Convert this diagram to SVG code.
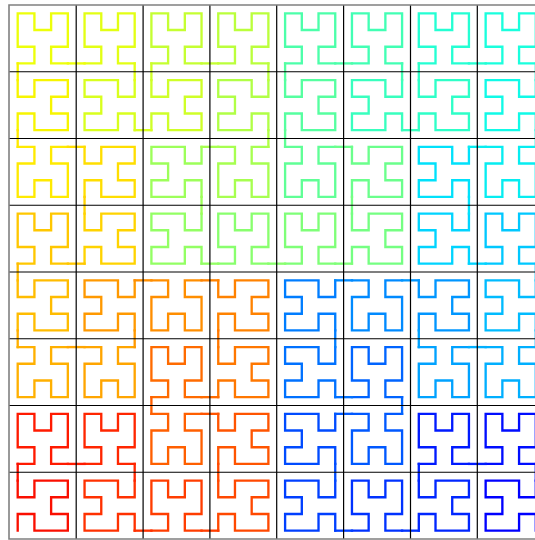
<svg xmlns="http://www.w3.org/2000/svg" width="535" height="540" viewBox="0 0 535 540">
<style>
.curve{fill:none;stroke-width:0.14;stroke-linecap:square;stroke-linejoin:miter}
.grid line{stroke:#000;stroke-width:1.2}
.frame{fill:none;stroke:#808080;stroke-width:1.6}
</style>
<defs>
<path id="hI" d="M0 0H1V1H0V3H1V2H2V3H3V1H2V0H3"/>
<path id="hT" d="M0 0V1H1V0H3V1H2V2H3V3H1V2H0V3"/>
<path id="hA" d="M3 3V2H2V3H0V2H1V1H0V0H2V1H3V0"/>
<path id="hR" d="M3 3H2V2H3V0H2V1H1V0H0V2H1V3H0"/>
</defs>
<rect width="535" height="540" fill="#fff"/>
<g class="curve" transform="matrix(16.7125 0 0 -16.6875 17.7 530.656)">
<g id="blocks">
<use id="b0" href="#hT" x="0" y="0" stroke="#fa0f00"/>
<use id="b1" href="#hI" x="0" y="4" stroke="#ff1a00"/>
<use id="b2" href="#hI" x="4" y="4" stroke="#ff2600"/>
<use id="b3" href="#hA" x="4" y="0" stroke="#ff3100"/>
<use id="b4" href="#hI" x="8" y="0" stroke="#ff3d00"/>
<use id="b5" href="#hT" x="12" y="0" stroke="#ff4800"/>
<use id="b6" href="#hT" x="12" y="4" stroke="#ff5400"/>
<use id="b7" href="#hR" x="8" y="4" stroke="#ff5f00"/>
<use id="b8" href="#hI" x="8" y="8" stroke="#ff6b00"/>
<use id="b9" href="#hT" x="12" y="8" stroke="#ff7700"/>
<use id="b10" href="#hT" x="12" y="12" stroke="#ff8200"/>
<use id="b11" href="#hR" x="8" y="12" stroke="#ff8e00"/>
<use id="b12" href="#hA" x="4" y="12" stroke="#ff9900"/>
<use id="b13" href="#hR" x="4" y="8" stroke="#ffa500"/>
<use id="b14" href="#hR" x="0" y="8" stroke="#ffb000"/>
<use id="b15" href="#hT" x="0" y="12" stroke="#ffbc00"/>
<use id="b16" href="#hI" x="0" y="16" stroke="#ffc700"/>
<use id="b17" href="#hT" x="4" y="16" stroke="#ffd300"/>
<use id="b18" href="#hT" x="4" y="20" stroke="#ffde00"/>
<use id="b19" href="#hR" x="0" y="20" stroke="#ffea00"/>
<use id="b20" href="#hT" x="0" y="24" stroke="#f7f500"/>
<use id="b21" href="#hI" x="0" y="28" stroke="#edff0a"/>
<use id="b22" href="#hI" x="4" y="28" stroke="#e3ff14"/>
<use id="b23" href="#hA" x="4" y="24" stroke="#d9ff1e"/>
<use id="b24" href="#hT" x="8" y="24" stroke="#cfff28"/>
<use id="b25" href="#hI" x="8" y="28" stroke="#c5ff32"/>
<use id="b26" href="#hI" x="12" y="28" stroke="#bbff3c"/>
<use id="b27" href="#hA" x="12" y="24" stroke="#b1ff46"/>
<use id="b28" href="#hR" x="12" y="20" stroke="#a7ff50"/>
<use id="b29" href="#hA" x="8" y="20" stroke="#9dff5a"/>
<use id="b30" href="#hA" x="8" y="16" stroke="#93ff64"/>
<use id="b31" href="#hI" x="12" y="16" stroke="#89ff6e"/>
<use id="b32" href="#hI" x="16" y="16" stroke="#7fff78"/>
<use id="b33" href="#hT" x="20" y="16" stroke="#75ff82"/>
<use id="b34" href="#hT" x="20" y="20" stroke="#6bff8c"/>
<use id="b35" href="#hR" x="16" y="20" stroke="#60ff96"/>
<use id="b36" href="#hT" x="16" y="24" stroke="#56ffa0"/>
<use id="b37" href="#hI" x="16" y="28" stroke="#4cffaa"/>
<use id="b38" href="#hI" x="20" y="28" stroke="#42ffb4"/>
<use id="b39" href="#hA" x="20" y="24" stroke="#38ffbe"/>
<use id="b40" href="#hT" x="24" y="24" stroke="#2effc8"/>
<use id="b41" href="#hI" x="24" y="28" stroke="#24ffd3"/>
<use id="b42" href="#hI" x="28" y="28" stroke="#1affdd"/>
<use id="b43" href="#hA" x="28" y="24" stroke="#10fae7"/>
<use id="b44" href="#hR" x="28" y="20" stroke="#06edf1"/>
<use id="b45" href="#hA" x="24" y="20" stroke="#00e1fb"/>
<use id="b46" href="#hA" x="24" y="16" stroke="#00d4ff"/>
<use id="b47" href="#hI" x="28" y="16" stroke="#00c8ff"/>
<use id="b48" href="#hA" x="28" y="12" stroke="#00bbff"/>
<use id="b49" href="#hR" x="28" y="8" stroke="#00afff"/>
<use id="b50" href="#hR" x="24" y="8" stroke="#00a2ff"/>
<use id="b51" href="#hT" x="24" y="12" stroke="#0096ff"/>
<use id="b52" href="#hR" x="20" y="12" stroke="#008aff"/>
<use id="b53" href="#hA" x="16" y="12" stroke="#007dff"/>
<use id="b54" href="#hA" x="16" y="8" stroke="#0071ff"/>
<use id="b55" href="#hI" x="20" y="8" stroke="#0064ff"/>
<use id="b56" href="#hR" x="20" y="4" stroke="#0058ff"/>
<use id="b57" href="#hA" x="16" y="4" stroke="#004bff"/>
<use id="b58" href="#hA" x="16" y="0" stroke="#003fff"/>
<use id="b59" href="#hI" x="20" y="0" stroke="#0032ff"/>
<use id="b60" href="#hT" x="24" y="0" stroke="#0026ff"/>
<use id="b61" href="#hI" x="24" y="4" stroke="#001aff"/>
<use id="b62" href="#hI" x="28" y="4" stroke="#000dff"/>
<use id="b63" href="#hA" x="28" y="0" stroke="#0000ff"/>
</g>
<g id="connectors">
<path d="M0 3V4" stroke="#fa0f00"/>
<path d="M3 4H4" stroke="#ff1a00"/>
<path d="M7 4V3" stroke="#ff2600"/>
<path d="M7 0H8" stroke="#ff3100"/>
<path d="M11 0H12" stroke="#ff3d00"/>
<path d="M12 3V4" stroke="#ff4800"/>
<path d="M12 7H11" stroke="#ff5400"/>
<path d="M8 7V8" stroke="#ff5f00"/>
<path d="M11 8H12" stroke="#ff6b00"/>
<path d="M12 11V12" stroke="#ff7700"/>
<path d="M12 15H11" stroke="#ff8200"/>
<path d="M8 15H7" stroke="#ff8e00"/>
<path d="M7 12V11" stroke="#ff9900"/>
<path d="M4 11H3" stroke="#ffa500"/>
<path d="M0 11V12" stroke="#ffb000"/>
<path d="M0 15V16" stroke="#ffbc00"/>
<path d="M3 16H4" stroke="#ffc700"/>
<path d="M4 19V20" stroke="#ffd300"/>
<path d="M4 23H3" stroke="#ffde00"/>
<path d="M0 23V24" stroke="#ffea00"/>
<path d="M0 27V28" stroke="#f7f500"/>
<path d="M3 28H4" stroke="#edff0a"/>
<path d="M7 28V27" stroke="#e3ff14"/>
<path d="M7 24H8" stroke="#d9ff1e"/>
<path d="M8 27V28" stroke="#cfff28"/>
<path d="M11 28H12" stroke="#c5ff32"/>
<path d="M15 28V27" stroke="#bbff3c"/>
<path d="M15 24V23" stroke="#b1ff46"/>
<path d="M12 23H11" stroke="#a7ff50"/>
<path d="M11 20V19" stroke="#9dff5a"/>
<path d="M11 16H12" stroke="#93ff64"/>
<path d="M15 16H16" stroke="#89ff6e"/>
<path d="M19 16H20" stroke="#7fff78"/>
<path d="M20 19V20" stroke="#75ff82"/>
<path d="M20 23H19" stroke="#6bff8c"/>
<path d="M16 23V24" stroke="#60ff96"/>
<path d="M16 27V28" stroke="#56ffa0"/>
<path d="M19 28H20" stroke="#4cffaa"/>
<path d="M23 28V27" stroke="#42ffb4"/>
<path d="M23 24H24" stroke="#38ffbe"/>
<path d="M24 27V28" stroke="#2effc8"/>
<path d="M27 28H28" stroke="#24ffd3"/>
<path d="M31 28V27" stroke="#1affdd"/>
<path d="M31 24V23" stroke="#10fae7"/>
<path d="M28 23H27" stroke="#06edf1"/>
<path d="M27 20V19" stroke="#00e1fb"/>
<path d="M27 16H28" stroke="#00d4ff"/>
<path d="M31 16V15" stroke="#00c8ff"/>
<path d="M31 12V11" stroke="#00bbff"/>
<path d="M28 11H27" stroke="#00afff"/>
<path d="M24 11V12" stroke="#00a2ff"/>
<path d="M24 15H23" stroke="#0096ff"/>
<path d="M20 15H19" stroke="#008aff"/>
<path d="M19 12V11" stroke="#007dff"/>
<path d="M19 8H20" stroke="#0071ff"/>
<path d="M23 8V7" stroke="#0064ff"/>
<path d="M20 7H19" stroke="#0058ff"/>
<path d="M19 4V3" stroke="#004bff"/>
<path d="M19 0H20" stroke="#003fff"/>
<path d="M23 0H24" stroke="#0032ff"/>
<path d="M24 3V4" stroke="#0026ff"/>
<path d="M27 4H28" stroke="#001aff"/>
<path d="M31 4V3" stroke="#000dff"/>
</g>
</g>
<g class="grid">
<line x1="76.2" y1="5" x2="76.2" y2="539"/>
<line x1="143.1" y1="5" x2="143.1" y2="539"/>
<line x1="209.9" y1="5" x2="209.9" y2="539"/>
<line x1="276.7" y1="5" x2="276.7" y2="539"/>
<line x1="343.6" y1="5" x2="343.6" y2="539"/>
<line x1="410.5" y1="5" x2="410.5" y2="539"/>
<line x1="477.3" y1="5" x2="477.3" y2="539"/>
<line x1="9" y1="71.75" x2="535" y2="71.75"/>
<line x1="9" y1="138.5" x2="535" y2="138.5"/>
<line x1="9" y1="205.25" x2="535" y2="205.25"/>
<line x1="9" y1="272" x2="535" y2="272"/>
<line x1="9" y1="338.75" x2="535" y2="338.75"/>
<line x1="9" y1="405.5" x2="535" y2="405.5"/>
<line x1="9" y1="472.25" x2="535" y2="472.25"/>
</g>
<path class="frame" d="M536 5H9V539H536"/>
</svg>
